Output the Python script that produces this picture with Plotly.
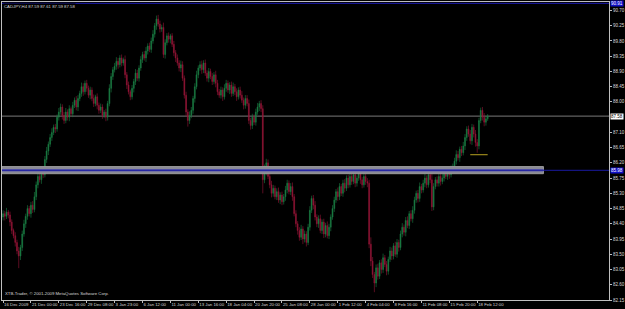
import plotly.graph_objects as go

# ---- data (CADJPY H4) ----
closes = [
    84.70, 84.62, 84.75, 84.66, 84.45, 84.20, 84.05, 83.85, 83.60, 83.45,
    83.70, 84.10, 84.40, 84.62, 84.85, 84.70, 84.95, 84.82, 85.20, 85.55,
    85.80, 85.70, 85.95, 85.85, 86.30, 86.55, 86.75, 86.95, 87.10, 87.25,
    87.20, 87.55, 87.70, 87.85, 87.60, 87.45, 87.70, 87.55, 87.80, 87.65,
    87.90, 88.05, 87.85, 88.10, 88.25, 88.45, 88.30, 88.55, 88.40, 88.20,
    88.35, 88.10, 87.95, 88.15, 87.90, 87.75, 87.85, 87.60, 87.70, 87.55,
    87.95, 88.40, 88.75, 88.95, 89.05, 89.20, 89.10, 89.30, 89.15, 89.25,
    88.80, 88.50, 88.30, 88.15, 88.40, 88.60, 88.85, 88.70, 89.00, 89.25,
    89.40, 89.30, 89.50, 89.65, 89.55, 89.80, 90.00, 90.25, 90.45, 90.30,
    90.15, 90.20, 89.40, 89.75, 89.95, 89.85, 89.95, 89.70, 89.45, 89.30,
    89.15, 89.00, 89.10, 88.70, 88.20, 87.70, 87.45, 87.60, 87.75, 88.10,
    88.45, 88.80, 89.00, 89.10, 88.95, 89.15, 88.85, 88.70, 88.90, 88.75,
    88.60, 88.80, 88.55, 88.30, 88.20, 88.35, 88.15, 88.40, 88.55, 88.35,
    88.50, 88.25, 88.45, 88.30, 88.15, 88.35, 88.20, 88.05, 87.90, 88.10,
    87.95, 87.45, 87.30, 87.55, 87.40, 87.70, 87.85, 87.95, 87.80, 85.70,
    85.95, 86.20, 85.80, 85.55, 85.30, 85.45, 85.20, 85.35, 85.10, 85.25,
    85.05, 85.20, 85.40, 85.60, 85.35, 85.50, 85.20, 84.70, 84.40, 84.20,
    84.00, 84.25, 83.95, 84.10, 83.85, 84.30, 84.80, 85.15, 84.95, 84.60,
    84.40, 84.55, 84.20, 84.45, 84.10, 84.35, 84.05, 84.30, 84.60, 84.85,
    85.10, 85.35, 85.20, 85.50, 85.30, 85.60, 85.45, 85.75, 85.55, 85.80,
    85.65, 85.85, 85.60, 85.75, 85.90, 85.70, 85.55, 85.80, 85.65, 85.60,
    83.80, 83.30, 82.90, 82.65, 83.10, 82.85, 83.25, 83.05, 83.40, 83.20,
    83.00, 83.35, 83.60, 83.45, 83.75, 83.50, 83.85, 83.70, 84.10, 84.30,
    84.15, 84.50, 84.35, 84.70, 84.55, 84.80, 85.10, 85.30, 85.15, 85.50,
    85.40, 85.60, 85.75, 85.55, 85.85, 85.70, 84.90, 85.50, 85.70, 85.60,
    85.80, 85.65, 85.75, 85.90, 85.80, 85.95, 85.85, 86.00, 86.10, 86.25,
    86.45, 86.35, 86.60, 86.50, 86.70, 86.95, 87.20, 87.05, 86.85, 87.25,
    87.05, 86.80, 86.70, 87.45, 87.75, 87.55, 87.40, 87.50, 87.58,
]
first_open = 84.60

# upper / lower wick lengths in hundredths of a yen
wick_up = [
    10, 8, 12, 6, 10, 8, 6, 10, 8, 12,
    8, 10, 12, 8, 10, 8, 10, 12, 14, 10,
    8, 12, 10, 8, 10, 12, 8, 10, 12, 8,
    10, 8, 12, 10, 8, 10, 12, 8, 10, 6,
    10, 8, 12, 10, 8, 12, 10, 8, 10, 8,
    10, 8, 12, 6, 10, 8, 10, 8, 6, 10,
    8, 12, 10, 8, 10, 12, 10, 8, 10, 6,
    12, 8, 10, 6, 10, 8, 12, 10, 8, 10,
    8, 10, 12, 8, 10, 10, 12, 8, 10, 12,
    10, 8, 14, 10, 8, 10, 6, 8, 10, 8,
    10, 8, 12, 10, 8, 10, 8, 12, 10, 8,
    10, 12, 8, 10, 12, 8, 10, 8, 10, 8,
    10, 8, 12, 10, 8, 10, 8, 12, 10, 8,
    8, 10, 12, 8, 10, 8, 10, 12, 8, 10,
    10, 12, 8, 10, 8, 10, 12, 8, 10, 10,
    20, 12, 10, 8, 12, 10, 8, 10, 12, 8,
    10, 8, 12, 10, 8, 10, 12, 8, 10, 8,
    10, 12, 8, 10, 8, 10, 12, 8, 10, 12,
    8, 10, 12, 8, 10, 8, 12, 10, 8, 10,
    10, 8, 12, 10, 8, 10, 12, 8, 10, 10,
    8, 10, 12, 8, 10, 12, 8, 10, 8, 10,
    10, 20, 12, 8, 10, 12, 8, 10, 12, 8,
    10, 8, 12, 10, 8, 12, 10, 8, 10, 12,
    8, 10, 12, 8, 10, 12, 10, 8, 10, 12,
    8, 10, 12, 8, 10, 12, 30, 10, 8, 10,
    8, 10, 12, 8, 10, 8, 10, 12, 8, 10,
    12, 10, 8, 10, 12, 10, 8, 10, 12, 10,
    8, 12, 10, 8, 8, 10, 12, 8, 6,
]
wick_dn = [
    10, 12, 8, 10, 12, 10, 8, 12, 10, 36,
    12, 10, 8, 12, 10, 8, 12, 10, 8, 10,
    10, 8, 12, 10, 8, 10, 12, 8, 10, 8,
    12, 8, 10, 8, 12, 10, 8, 10, 12, 8,
    10, 8, 10, 12, 8, 10, 12, 8, 10, 8,
    12, 8, 10, 8, 12, 10, 8, 10, 8, 12,
    10, 8, 12, 10, 8, 10, 12, 8, 10, 8,
    10, 12, 8, 10, 8, 12, 10, 8, 10, 8,
    10, 8, 12, 10, 8, 10, 8, 10, 12, 8,
    10, 8, 10, 12, 8, 10, 12, 8, 10, 12,
    8, 10, 12, 8, 10, 12, 18, 10, 8, 10,
    12, 8, 10, 8, 12, 10, 8, 10, 12, 8,
    10, 8, 12, 10, 8, 10, 12, 8, 10, 8,
    12, 10, 8, 10, 12, 8, 10, 8, 12, 10,
    8, 10, 12, 10, 8, 10, 8, 12, 10, 40,
    10, 12, 8, 10, 12, 10, 8, 10, 8, 12,
    10, 8, 12, 10, 8, 10, 12, 8, 10, 12,
    10, 8, 15, 10, 12, 8, 10, 8, 12, 10,
    10, 12, 8, 10, 12, 10, 8, 10, 12, 8,
    10, 8, 12, 10, 8, 10, 12, 8, 10, 8,
    10, 8, 12, 10, 8, 12, 10, 8, 10, 12,
    12, 15, 10, 27, 12, 10, 8, 12, 10, 8,
    12, 10, 8, 12, 10, 8, 10, 12, 8, 10,
    10, 12, 8, 10, 8, 12, 10, 8, 12, 10,
    10, 8, 12, 10, 8, 10, 12, 10, 8, 10,
    10, 12, 8, 10, 8, 10, 12, 8, 10, 8,
    10, 8, 12, 10, 8, 12, 10, 8, 10, 12,
    10, 12, 20, 10, 8, 10, 12, 10, 6,
]

x_tick_labels = [
    "16 Dec 2009", "21 Dec 00:00", "23 Dec 16:00", "29 Dec 08:00", "3 Jan 23:00",
    "6 Jan 12:00", "11 Jan 00:00", "13 Jan 16:00", "18 Jan 04:00", "20 Jan 20:00",
    "25 Jan 08:00", "28 Jan 00:00", "1 Feb 12:00", "4 Feb 04:00", "8 Feb 16:00",
    "11 Feb 08:00", "15 Feb 20:00", "18 Feb 12:00",
]
bars_per_label = 16
# 87.55 sits under the current-price box in the reference
y_ticks = [90.70, 90.25, 89.80, 89.35, 88.90, 88.45, 88.00, 87.10, 86.65,
           86.20, 85.75, 85.30, 84.85, 84.40, 83.95, 83.50, 83.05, 82.60, 82.15]

current_price = 87.58
top_level = 90.91
support_level = 85.98
zone_low, zone_high = 85.88, 86.09
zone_end_bar = 310
stop_level = 86.44
stop_bars = (268, 278)
title_text = "CADJPY,H4 87.59 87.61 87.59 87.58"
copyright_text = "XTB-Trader, \u00a9 2001-2009 MetaQuotes Software Corp."

# ---- build OHLC ----
n = len(closes)
idx = list(range(n))
opens = [first_open] + closes[:-1]
highs = [max(o, c) + u / 100 for o, c, u in zip(opens, closes, wick_up)]
lows = [min(o, c) - d / 100 for o, c, d in zip(opens, closes, wick_dn)]

GREEN = "#1b7f45"
RED = "#961537"
AXC = "#bfbfbf"
TXT = "#d8d8d8"
FONT = "Liberation Sans"

fig = go.Figure()
fig.add_trace(go.Candlestick(
    x=idx, open=opens, high=highs, low=lows, close=closes,
    increasing=dict(line=dict(color=GREEN, width=0.6), fillcolor=GREEN),
    decreasing=dict(line=dict(color=RED, width=0.6), fillcolor=RED),
    whiskerwidth=0, showlegend=False, hoverinfo="skip",
))

XMAX = 347.6
# zone rectangle
fig.add_shape(type="rect", xref="x", yref="y", x0=-0.6, x1=zone_end_bar,
              y0=zone_low, y1=zone_high, fillcolor="#8a8a96",
              line=dict(color="#9a9a9a", width=1), layer="above")
fig.add_shape(type="rect", xref="x", yref="y", x0=-0.6, x1=zone_end_bar,
              y0=support_level - 0.035, y1=support_level + 0.035,
              fillcolor="#5a5aa8", line=dict(width=0), layer="above")
# lines
fig.add_shape(type="line", xref="paper", yref="y", x0=0, x1=1,
              y0=support_level, y1=support_level,
              line=dict(color="#1a1aa0", width=1), layer="above")
fig.add_shape(type="line", xref="paper", yref="y", x0=0, x1=1,
              y0=top_level, y1=top_level,
              line=dict(color="#1a1ab0", width=1), layer="above")
fig.add_shape(type="line", xref="paper", yref="y", x0=0, x1=1,
              y0=current_price, y1=current_price,
              line=dict(color="#7a7a7a", width=1), layer="below")
fig.add_shape(type="line", xref="x", yref="y", x0=stop_bars[0], x1=stop_bars[1],
              y0=stop_level, y1=stop_level,
              line=dict(color="#b8a020", width=1), layer="above")

# price-axis labels in boxes
for lvl, bg, fg in [(top_level, "#1010c8", "#ffffff"),
                    (support_level, "#1010c8", "#ffffff"),
                    (current_price, "#ffffff", "#000000")]:
    fig.add_annotation(xref="paper", yref="y", x=1, y=lvl, xanchor="left",
                       yanchor="middle", text=f"{lvl:.2f}", showarrow=False,
                       font=dict(size=4.5, color=fg, family=FONT),
                       bgcolor=bg, borderpad=0, xshift=1)

fig.add_annotation(xref="paper", yref="paper", x=0, y=1, xanchor="left",
                   yanchor="top", text=title_text, showarrow=False,
                   font=dict(size=4.3, color=TXT, family=FONT),
                   bgcolor="#000000", borderpad=0, xshift=1, yshift=-1)
fig.add_annotation(xref="paper", yref="paper", x=0, y=0, xanchor="left",
                   yanchor="bottom", text=copyright_text, showarrow=False,
                   font=dict(size=4.3, color=TXT, family=FONT),
                   xshift=1, yshift=2)

fig.update_layout(
    width=625, height=309,
    margin=dict(l=2, r=16, t=2, b=9, autoexpand=False),
    paper_bgcolor="#000000", plot_bgcolor="#000000",
    showlegend=False,
    xaxis=dict(
        range=[-0.6, XMAX], rangeslider=dict(visible=False),
        tickmode="array",
        tickvals=[i * bars_per_label for i in range(len(x_tick_labels))],
        ticktext=x_tick_labels, tickangle=0, automargin=False,
        ticks="outside", ticklen=2, tickcolor=AXC,
        ticklabelposition="outside right",
        tickfont=dict(size=4.3, color=TXT, family=FONT),
        showgrid=False, zeroline=False,
        showline=True, linecolor=AXC, linewidth=1, mirror=True,
    ),
    yaxis=dict(
        range=[82.15, 90.95], side="right", automargin=False,
        tickmode="array", tickvals=y_ticks,
        ticktext=[f"{v:.2f}" for v in y_ticks],
        ticks="outside", ticklen=2, tickcolor=AXC,
        tickfont=dict(size=4.5, color=TXT, family=FONT),
        showgrid=False, zeroline=False,
        showline=True, linecolor=AXC, linewidth=1, mirror=True,
    ),
)

fig.write_html("out.html")
